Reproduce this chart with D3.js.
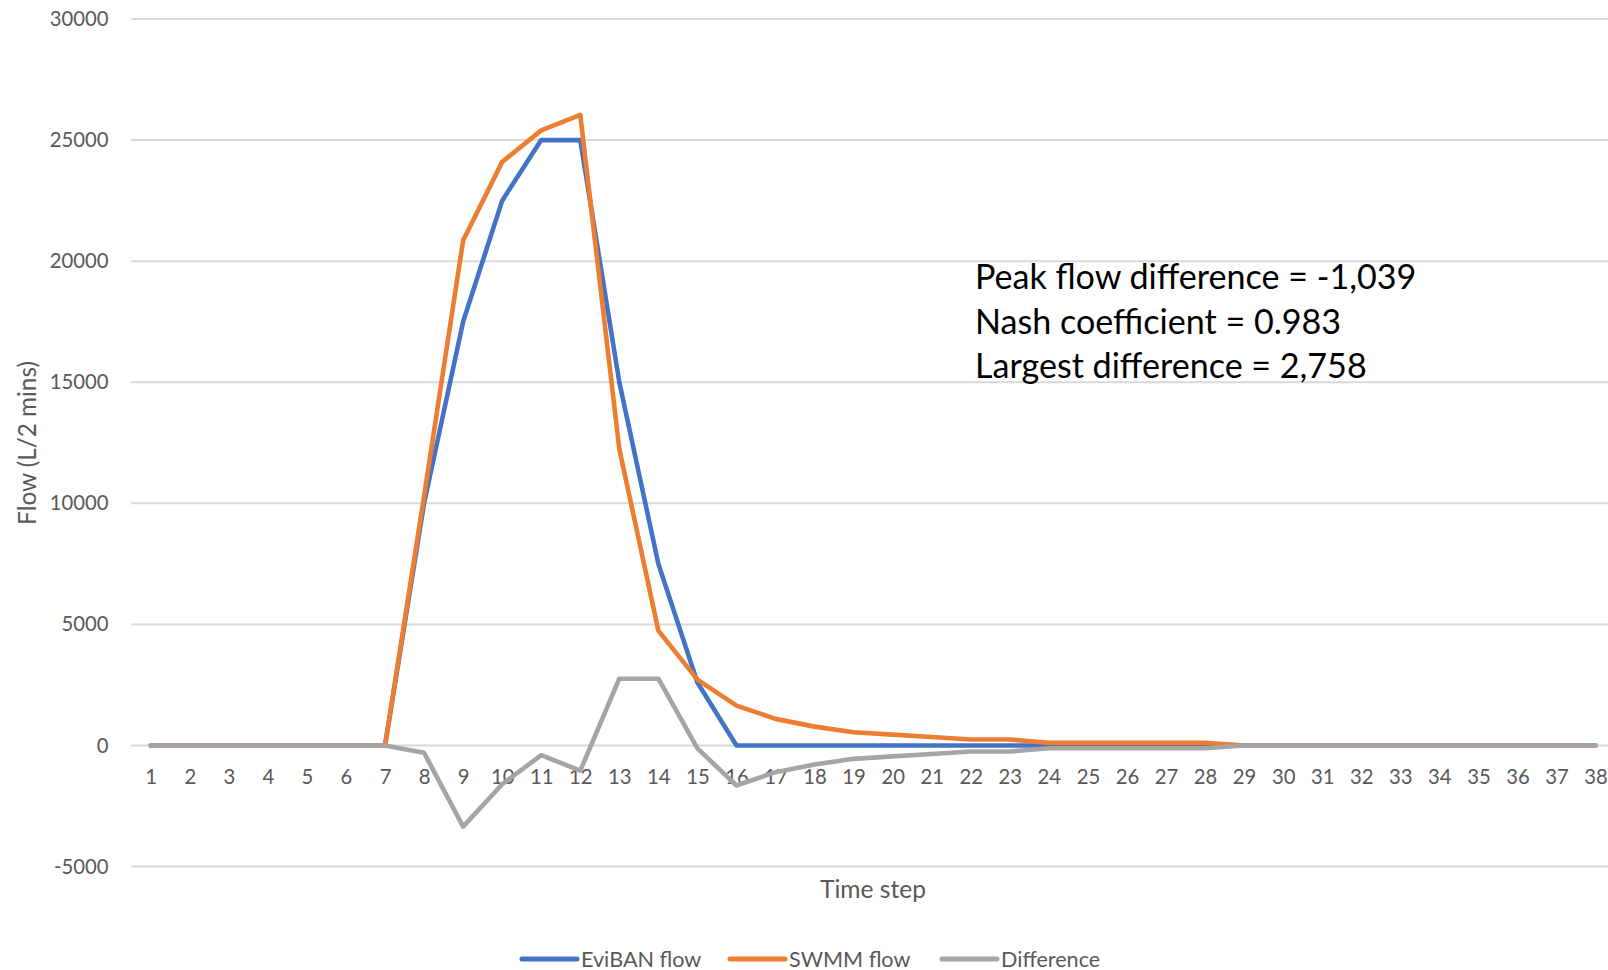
<!DOCTYPE html>
<html>
<head>
<meta charset="utf-8">
<script src="https://cdn.jsdelivr.net/npm/d3@7"></script>
<style>
  html, body { margin: 0; padding: 0; background: #fff; overflow: hidden; }
  svg { display: block; font-family: Lato, "Open Sans", sans-serif; }
</style>
</head>
<body>
<svg id="chart" width="1608" height="970"></svg>
<script>
// Time steps (2-minute intervals)
const steps = d3.range(1, 39);

// Flow series, L per 2 minutes
const evibanFlow = [0, 0, 0, 0, 0, 0, 0, 10000, 17500, 22500, 25000, 25000, 15000, 7500, 2600,
  0, 0, 0, 0, 0, 0, 0, 0, 0, 0, 0, 0, 0, 0, 0, 0, 0, 0, 0, 0, 0, 0, 0];
const swmmFlow = [0, 0, 0, 0, 0, 0, 0, 10300, 20850, 24100, 25400, 26039, 12242, 4742, 2720,
  1650, 1100, 780, 550, 450, 350, 250, 250, 110, 110, 110, 110, 110, 0, 0, 0, 0, 0, 0, 0, 0, 0, 0];
const difference = [0, 0, 0, 0, 0, 0, 0, -300, -3350, -1600, -400, -1039, 2758, 2758, -120,
  -1650, -1100, -780, -550, -450, -350, -250, -250, -110, -110, -110, -110, -110, 0, 0, 0, 0, 0, 0, 0, 0, 0, 0];

const yTicks = [-5000, 0, 5000, 10000, 15000, 20000, 25000, 30000];
const seriesNames = ["EviBAN flow", "SWMM flow", "Difference"];
const seriesColors = ["#4472C4", "#ED7D31", "#A5A5A5"];
const statsLines = [
  "Peak flow difference = -1,039",
  "Nash coefficient = 0.983",
  "Largest difference = 2,758"
];

const svg = d3.select("#chart");
const textColor = "#595959";

// Plot area
const plotLeft = 131.2, step = 39.05;
const x = d3.scalePoint()
  .domain(steps)
  .range([plotLeft + step / 2, plotLeft + step / 2 + step * (steps.length - 1)]);
const plotRight = plotLeft + step * steps.length;
const y = d3.scaleLinear().domain([-5000, 30000]).range([866.6, 19]);

// Horizontal gridlines
svg.append("g")
  .selectAll("line")
  .data(yTicks)
  .join("line")
  .attr("x1", plotLeft).attr("x2", plotRight)
  .attr("y1", d => y(d)).attr("y2", d => y(d))
  .attr("stroke", "#D9D9D9").attr("stroke-width", 2);

// Y axis labels (plain hyphen for negatives)
const yAxis = d3.axisLeft(y).tickValues(yTicks).tickFormat(d => String(d)).tickSize(0).tickPadding(0);
const yG = svg.append("g").attr("transform", "translate(108.5,0)").call(yAxis);
yG.select(".domain").remove();
yG.selectAll("text").attr("fill", textColor).attr("font-size", 20.3).attr("font-family", "Lato");

// X axis labels
const xAxis = d3.axisBottom(x).tickSize(0).tickPadding(0);
const xG = svg.append("g").attr("transform", "translate(0,770)").call(xAxis);
xG.select(".domain").remove();
xG.selectAll("text").attr("fill", textColor).attr("font-size", 20.3).attr("font-family", "Lato")
  .attr("dy", "0.71em");

// Axis titles
svg.append("text")
  .attr("x", 873).attr("y", 898)
  .attr("text-anchor", "middle")
  .attr("fill", textColor).attr("font-size", 24.6)
  .text("Time step");

svg.append("text")
  .attr("transform", "translate(36,443) rotate(-90)")
  .attr("text-anchor", "middle")
  .attr("fill", textColor).attr("font-size", 24.3)
  .text("Flow (L/2 mins)");

// Series lines
const allSeries = [evibanFlow, swmmFlow, difference];
const line = d3.line().x((d, i) => x(steps[i])).y(d => y(d));
svg.append("g")
  .selectAll("path")
  .data(allSeries)
  .join("path")
  .attr("d", d => line(d))
  .attr("fill", "none")
  .attr("stroke", (d, i) => seriesColors[i])
  .attr("stroke-width", 4.6)
  .attr("stroke-linecap", "round")
  .attr("stroke-linejoin", "round");

// Fit statistics
svg.append("g")
  .selectAll("text")
  .data(statsLines)
  .join("text")
  .attr("x", 975)
  .attr("y", (d, i) => 289 + i * 44.5)
  .attr("fill", "#000")
  .attr("font-size", 34.1)
  .text(d => d);

// Legend
const legendX = [522, 730, 942];
const lg = svg.append("g").selectAll("g").data(seriesNames).join("g")
  .attr("transform", (d, i) => `translate(${legendX[i]},959)`);
lg.append("line")
  .attr("x1", 0).attr("x2", 55)
  .attr("stroke", (d, i) => seriesColors[i])
  .attr("stroke-width", 5)
  .attr("stroke-linecap", "round");
lg.append("text")
  .attr("x", 59).attr("y", 7.5)
  .attr("fill", textColor).attr("font-size", 21.6)
  .text(d => d);
</script>
</body>
</html>
